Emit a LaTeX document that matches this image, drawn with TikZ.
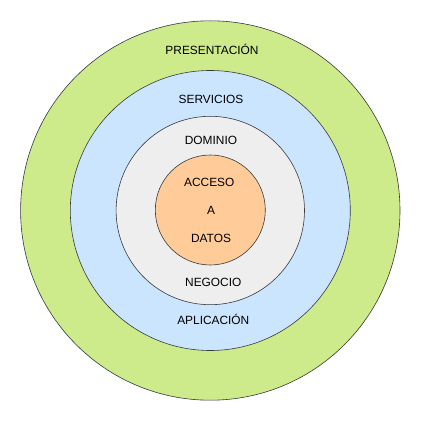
\documentclass[tikz,border=0pt]{standalone}
\usepackage{fontspec}
\setmainfont{Liberation Sans}
\usepackage{tikz}

\definecolor{capagreen}{HTML}{CDEB8B}
\definecolor{capablue}{HTML}{CCE5FF}
\definecolor{capagray}{HTML}{EEEEEE}
\definecolor{capaorange}{HTML}{FFCC99}
\definecolor{borde}{HTML}{36393D}

\tikzset{
  capa/.style={draw=borde, line width=0.6pt},
  rotulo/.style={font=\fontsize{11.9}{13}\selectfont, inner sep=0pt}
}

\begin{document}
\begin{tikzpicture}[x=1pt,y=1pt]
          \useasboundingbox (0,0) rectangle (421,421);
          \fill[white] (0,0) rectangle (421,421);

          \draw[capa, fill=capagreen] (210.3,210.5) circle (189.7);
          \draw[capa, fill=capablue] (210.3,210.5) circle (140);
          \draw[capa, fill=capagray] (210.3,210.5) circle (94.2);
          \draw[capa, fill=capaorange] (210.3,211) circle (55);

          \node[rotulo] (presentacion) at (212,371.7) {PRESENTACIÓN};
          \node[rotulo] (servicios) at (211,321.7) {SERVICIOS};
          \node[rotulo] (dominio) at (211,280.7) {DOMINIO};
          \node[rotulo] (acceso) at (209.3,238.7) {ACCESO};
          \node[rotulo] (a) at (211,210.3) {A};
          \node[rotulo] (datos) at (211,182.3) {DATOS};
          \node[rotulo] (negocio) at (213.3,138.7) {NEGOCIO};
          \node[rotulo] (aplicacion) at (213.3,101.7) {APLICACIÓN};
        \end{tikzpicture}
\end{document}
